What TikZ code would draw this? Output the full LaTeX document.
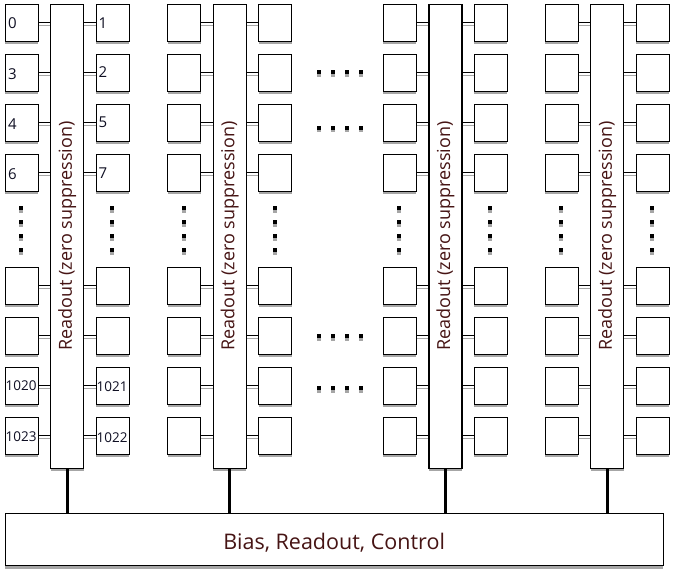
\documentclass[tikz,border=0pt]{standalone}
\usepackage{fontspec}
\setmainfont{Open Sans}
\usetikzlibrary{shadows}
\definecolor{shadowgray}{RGB}{166,166,166}
\definecolor{labred}{RGB}{70,20,20}
\definecolor{numcol}{RGB}{15,15,35}
\begin{document}
\begin{tikzpicture}[x=1pt,y=-1pt,
  shad/.style={drop shadow={shadow xshift=0pt,shadow yshift=-3pt,fill=shadowgray,opacity=1}},
  sq/.style={draw=black,line width=1.2pt,fill=white,rectangle,inner sep=0pt,anchor=north west,
    minimum width=33pt,minimum height=37pt,shad},
  barbox/.style={draw=black,line width=1.2pt,fill=white,rectangle,inner sep=0pt,anchor=north west,
    minimum width=33pt,minimum height=464pt,shad},
  busbox/.style={draw=black,line width=1.2pt,fill=white,rectangle,inner sep=0pt,anchor=north west,
    minimum width=658pt,minimum height=52pt,shad},
  bustext/.style={text=labred,font=\fontsize{21.5}{24}\selectfont,inner sep=0pt},
  bartext/.style={rotate=90,text=labred,font=\fontsize{18}{20}\selectfont,inner sep=0pt},
  dotb/.style={fill=black,rectangle,inner sep=0pt,minimum width=4.3pt,minimum height=4pt,
    drop shadow={shadow xshift=0pt,shadow yshift=-2.5pt,fill=shadowgray,opacity=1}},
  conn/.style={line width=1.2pt,black},
  connsh/.style={line width=1.2pt,shadowgray},
  bignum/.style={anchor=base west,inner sep=0pt,text=numcol,font=\fontsize{15}{17}\selectfont},
  smallnum/.style={anchor=base west,inner sep=0pt,text=numcol,font=\fontsize{13.5}{15}\selectfont},
  bus/.style={line width=3pt,black}
]
\useasboundingbox (0,0) rectangle (680,571);
% bus box
\node[busbox] (busb) at (4.5,513) {};
\node[bustext] (bustxt) at ([yshift=-3pt]busb.center) {Bias, Readout, Control};
\foreach \c/\bx in {1/50,2/212.7,3/428.3,4/590} {
  \node[barbox] (bar\c) at (\bx,3.5) {};
  \foreach \r/\ty in {1/3.5,2/53.5,3/103.5,4/153.5,5/266.5,6/316.5,7/366.5,8/416.5} {
    \node[sq] (L\c\r) at (\bx-45.5,\ty) {};
    \node[sq] (R\c\r) at (\bx+45.5,\ty) {};
    \draw[connsh] ([yshift=-2.5pt]L\c\r.east) -- ([yshift=-2.5pt]bar\c.west |- L\c\r.east);
    \draw[conn] (L\c\r.east) -- (bar\c.west |- L\c\r.east);
    \draw[connsh] ([yshift=-2.5pt]bar\c.east |- R\c\r.west) -- ([yshift=-2.5pt]R\c\r.west);
    \draw[conn] (bar\c.east |- R\c\r.west) -- (R\c\r.west);
  }
  \node[bartext] (txt\c) at (bar\c.center) {Readout (zero suppression)};
  \draw[bus] (bar\c.south) -- (bar\c.south |- busb.north);
  \foreach \dy [count=\k] in {208,222,236,250} {
    \node[dotb] (vdl\c\k) at (\bx-29,\dy) {};
    \node[dotb] (vdr\c\k) at (\bx+62,\dy) {};
  }
}
% horizontal dots between column 2 and 3
\foreach \hy [count=\j] in {72,127.5,336,388} {
  \foreach \hx [count=\k] in {319,333,347,361} {
    \node[dotb] (hd\j\k) at (\hx,\hy) {};
  }
}
% labels
\node[bignum] (n0) at ([xshift=3.5pt,yshift=-25pt]L11.north west) {0};
\node[bignum] (n3) at ([xshift=3.5pt,yshift=-26pt]L12.north west) {3};
\node[bignum] (n4) at ([xshift=3.5pt,yshift=-26pt]L13.north west) {4};
\node[bignum] (n6) at ([xshift=3.5pt,yshift=-26pt]L14.north west) {6};
\node[bignum] (n1) at ([xshift=3pt,yshift=-25pt]R11.north west) {1};
\node[bignum] (n2) at ([xshift=3pt,yshift=-24pt]R12.north west) {2};
\node[bignum] (n5) at ([xshift=3pt,yshift=-24pt]R13.north west) {5};
\node[bignum] (n7) at ([xshift=3pt,yshift=-25pt]R14.north west) {7};
\node[smallnum] (n1020) at ([xshift=1pt,yshift=-24pt]L17.north west) {1020};
\node[smallnum] (n1023) at ([xshift=1pt,yshift=-25pt]L18.north west) {1023};
\node[smallnum] (n1021) at ([xshift=1pt,yshift=-25pt]R17.north west) {1021};
\node[smallnum] (n1022) at ([xshift=1pt,yshift=-25.5pt]R18.north west) {1022};
\end{tikzpicture}
\end{document}
